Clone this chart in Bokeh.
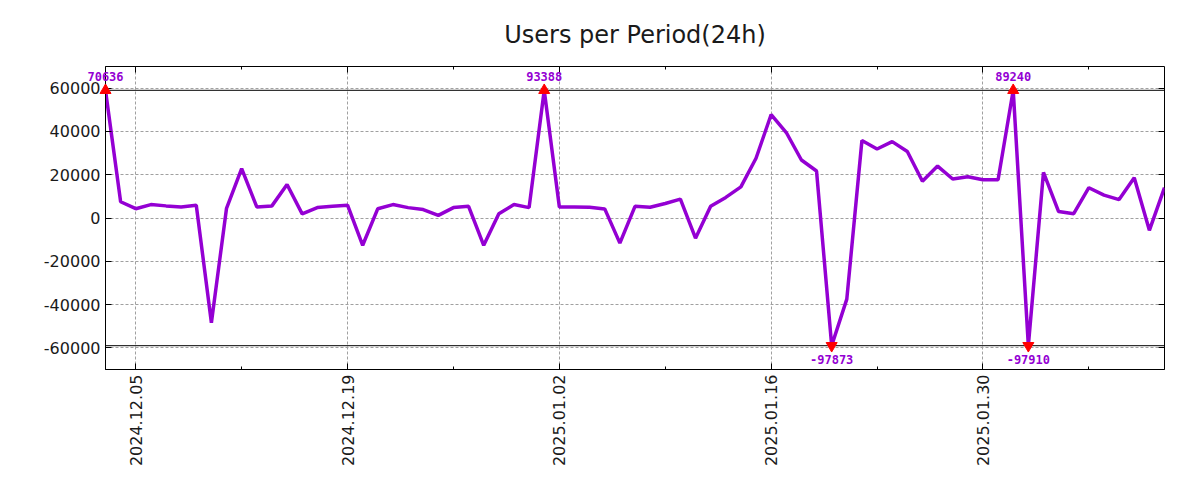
import numpy as np
import pandas as pd
from bokeh.plotting import figure
from bokeh.models import (ColumnDataSource, Range1d, FixedTicker, DatetimeTickFormatter,
                          LinearAxis, DatetimeAxis, Span)
from bokeh.core.properties import value
from bokeh.embed import file_html
from bokeh.resources import INLINE

# ---- data ----
start_date = "2024-12-03"
users = [70636, 7500, 4300, 6200, 5600, 5100, 5900, -48400, 4500, 22800,
         5100, 5600, 15500, 1900, 4800, 5400, 5900, -12600, 4300, 6200,
         4800, 3900, 1200, 4800, 5400, -12600, 2000, 6200, 4800, 93388,
         5100, 5100, 5000, 4200, -11600, 5400, 5000, 6700, 8700, -9300,
         5400, 9500, 14400, 27600, 47800, 39500, 26800, 21700, -97873, -37500,
         35800, 31900, 35300, 30700, 17000, 24000, 18000, 19100, 17700, 17700,
         89240, -97910, 21100, 3000, 2000, 14000, 10600, 8500, 18600, -5700,
         14000]
major_tick_dates = ["2024-12-05", "2024-12-19", "2025-01-02", "2025-01-16", "2025-01-30"]
minor_tick_dates = ["2024-12-12", "2024-12-26", "2025-01-09", "2025-01-23", "2025-02-06"]
y_ticks = [-60000, -40000, -20000, 0, 20000, 40000, 60000]
clip_value = 59000
title_text = "Users per Period(24h)"

# ---- derived ----
dates = pd.date_range(start_date, periods=len(users), freq="D")
vals = np.array(users, dtype=float)
shown = np.clip(vals, -clip_value, clip_value)

def ms(s):
    return pd.Timestamp(s).value // 10**6

major_ms = [ms(d) for d in major_tick_dates]
minor_ms = [ms(d) for d in minor_tick_dates] + major_ms

src = ColumnDataSource(dict(x=dates, y=shown))
hi = vals > clip_value
lo = vals < -clip_value
src_hi = ColumnDataSource(dict(x=dates[hi], y=shown[hi], t=[str(int(v)) for v in vals[hi]]))
src_lo = ColumnDataSource(dict(x=dates[lo], y=shown[lo], t=[str(int(v)) for v in vals[lo]]))

FONT = "DejaVu Sans"
MONO = "DejaVu Sans Mono"
TXT = "#1a1a1a"
PURPLE = "#9400D3"

p = figure(width=1192, height=492, output_backend="svg", toolbar_location=None,
           x_axis_type="datetime",
           x_range=Range1d(dates[0], dates[-1]), y_range=Range1d(-70000, 70000),
           min_border_left=105, min_border_right=28, min_border_top=66, min_border_bottom=123)

p.title.text = title_text
p.title.text_font = FONT
p.title.text_font_size = "24px"
p.title.text_font_style = "normal"
p.title.text_color = TXT
p.title.align = "center"
p.title.standoff = 36

p.outline_line_color = "black"
p.outline_line_width = 1
p.outline_line_alpha = 1

ticker_x = FixedTicker(ticks=major_ms, minor_ticks=minor_ms)
ticker_y = FixedTicker(ticks=y_ticks)
fmt = DatetimeTickFormatter(days="%Y.%m.%d", months="%Y.%m.%d", years="%Y.%m.%d",
                            hours="%Y.%m.%d", minutes="%Y.%m.%d", seconds="%Y.%m.%d",
                            milliseconds="%Y.%m.%d", microseconds="%Y.%m.%d",
                            minsec="%Y.%m.%d", hourmin="%Y.%m.%d")

xa = p.xaxis[0]
xa.ticker = ticker_x
xa.formatter = fmt
xa.major_label_orientation = np.pi / 2
ya = p.yaxis[0]
ya.ticker = ticker_y
ya.major_label_overrides = {v: str(v) for v in y_ticks}

for ax in (xa, ya):
    ax.major_tick_in = 6
    ax.major_tick_out = 0
    ax.minor_tick_in = 3
    ax.minor_tick_out = 0
    ax.axis_line_color = "black"
    ax.major_tick_line_color = "black"
    ax.minor_tick_line_color = "black"
    ax.major_label_text_font = FONT
    ax.major_label_text_font_size = "16px"
    ax.major_label_text_color = TXT
    ax.major_label_standoff = 5
ya.minor_tick_line_color = None

# mirrored ticks (top and right), labels hidden
top = DatetimeAxis(ticker=ticker_x, formatter=fmt, major_tick_in=6, major_tick_out=0,
                   minor_tick_in=3, minor_tick_out=0, major_label_text_font_size="1px",
                   major_label_text_color=None, axis_line_color=None, major_label_standoff=0)
p.add_layout(top, "above")
right = LinearAxis(ticker=ticker_y, major_tick_in=6, major_tick_out=0,
                   minor_tick_line_color=None, major_label_text_font_size="1px",
                   major_label_text_color=None, axis_line_color=None, major_label_standoff=0)
p.add_layout(right, "right")

p.xgrid.ticker = ticker_x
p.ygrid.ticker = ticker_y
for g in (p.xgrid[0], p.ygrid[0]):
    g.grid_line_color = "#a0a0a0"
    g.grid_line_dash = "3 2"
    g.grid_line_width = 1

p.add_layout(Span(location=clip_value, dimension="width", line_color="black", line_width=1))
p.add_layout(Span(location=-clip_value, dimension="width", line_color="black", line_width=1))

p.line("x", "y", source=src, line_color=PURPLE, line_width=3.5)

p.scatter("x", "y", source=src_hi, marker="triangle", size=11, color="#ff0000", level="overlay")
p.scatter("x", "y", source=src_lo, marker="inverted_triangle", size=11, color="#ff0000", level="overlay")

p.text("x", "y", text="t", source=src_hi, y_offset=-9, level="overlay",
       text_align="center", text_baseline="bottom",
       text_font=value(MONO), text_font_style="bold",
       text_font_size="12px", text_color=PURPLE)
p.text("x", "y", text="t", source=src_lo, y_offset=9, level="overlay",
       text_align="center", text_baseline="top",
       text_font=value(MONO), text_font_style="bold",
       text_font_size="12px", text_color=PURPLE)

open("out.html", "w").write(file_html(p, INLINE))
